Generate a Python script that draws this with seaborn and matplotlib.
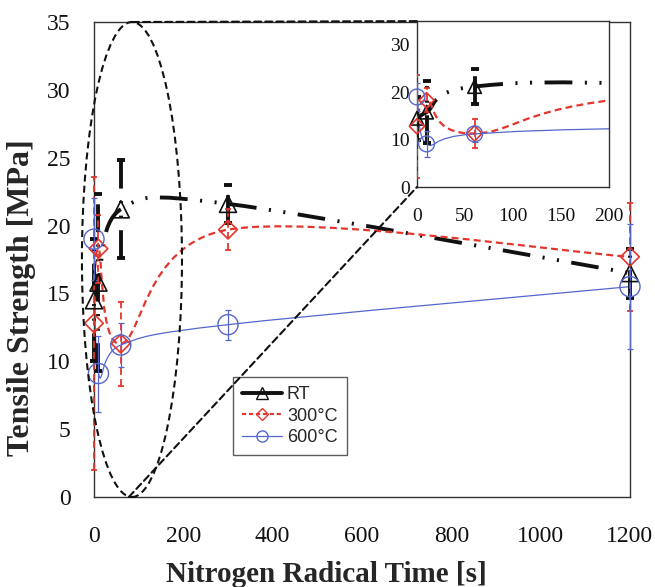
import numpy as np
import pandas as pd
import matplotlib
matplotlib.use("Agg")
import matplotlib.pyplot as plt
import seaborn as sns
from matplotlib.path import Path
from matplotlib.patches import PathPatch, Ellipse, ConnectionPatch
from matplotlib.lines import Line2D

# ---------------- data ----------------
time_s = [0, 10, 60, 300, 1200]
rt_mean = [14.5, 15.8, 21.2, 21.6, 16.5]
rt_err = [4.5, 6.5, 3.6, 1.4, 1.8]
c300_mean = [12.8, 18.3, 11.3, 19.7, 17.7]
c300_err = [10.8, 2.5, 3.1, 1.5, 4.0]
c600_mean = [19.0, 9.1, 11.2, 12.7, 15.5]
c600_err = [3.0, 2.8, 1.6, 1.1, 4.6]
series_labels = ["RT", "300°C", "600°C"]

main_xticks = [0, 200, 400, 600, 800, 1000, 1200]
main_yticks = [0, 5, 10, 15, 20, 25, 30, 35]
inset_xticks = [0, 50, 100, 150, 200]
inset_yticks = [0, 10, 20, 30]

# ---------------- style ----------------
sns.set_style("white")
plt.rcParams["font.family"] = ["Liberation Serif", "DejaVu Serif"]
plt.rcParams["lines.scale_dashes"] = False

BLACK = "#111111"
RED = "#e3362c"
BLUE = "#5567cc"

styles = {
    "RT": dict(color=BLACK, marker="^", lw=2.8, ls=(0, (20, 9, 1.5, 9, 1.5, 9)),
               ms_main=150, ms_inset=95, elw=2.8, cap=3, capthick=2.8),
    "300°C": dict(color=RED, marker="D", lw=1.6, ls=(0, (5, 3)),
                  ms_main=90, ms_inset=60, elw=1.3, cap=2.5, capthick=1.3),
    "600°C": dict(color=BLUE, marker="o", lw=0.9, ls="-",
                  ms_main=210, ms_inset=130, elw=0.9, cap=2.5, capthick=0.9),
}
means = {"RT": rt_mean, "300°C": c300_mean, "600°C": c600_mean}
errs = {"RT": rt_err, "300°C": c300_err, "600°C": c600_err}

df = pd.concat([pd.DataFrame({"time": time_s, "strength": means[k], "err": errs[k], "series": k})
                for k in series_labels], ignore_index=True)


def smooth_path(x, y):
    pts = np.column_stack([x, y]).astype(float)
    n = len(pts)
    verts = [pts[0]]
    codes = [Path.MOVETO]
    for i in range(n - 1):
        p0 = pts[max(i - 1, 0)]
        p1 = pts[i]
        p2 = pts[i + 1]
        p3 = pts[min(i + 2, n - 1)]
        c1 = p1 + (p2 - p0) / 6.0
        c2 = p2 - (p3 - p1) / 6.0
        verts += [c1, c2, p2]
        codes += [Path.CURVE4] * 3
    return Path(verts, codes)


def draw_series(ax, inset=False):
    for key in series_labels:
        st = styles[key]
        sub = df[df["series"] == key]
        patch = PathPatch(smooth_path(sub["time"], sub["strength"]), fill=False,
                          edgecolor=st["color"], lw=st["lw"], linestyle=st["ls"],
                          capstyle="butt", zorder=2)
        ax.add_patch(patch)
        eb = ax.errorbar(sub["time"], sub["strength"], yerr=sub["err"], fmt="none",
                         ecolor=st["color"], elinewidth=st["elw"], capsize=st["cap"],
                         capthick=st["capthick"], zorder=3)
        for lc in eb[2]:
            lc.set_linestyle(st["ls"])
            lc.set_capstyle("butt")
            lc.set_clip_on(inset)
        for c in eb[1]:
            c.set_clip_on(inset)
        sns.scatterplot(data=sub, x="time", y="strength", marker=st["marker"],
                        s=st["ms_inset"] if inset else st["ms_main"], ax=ax,
                        legend=False, zorder=4, clip_on=False)
        pts = ax.collections[-1]
        pts.set_facecolor("none")
        pts.set_edgecolor(st["color"])
        pts.set_linewidth(1.2 if key != "600°C" else 1.0)
    ax.set_xlabel("")
    ax.set_ylabel("")


fig = plt.figure(figsize=(6.55, 5.87), dpi=100)
ax = fig.add_axes([0.1435, 0.1533, 0.8183, 0.8092])
draw_series(ax)
ax.set_xlim(0, 1200)
ax.set_ylim(0, 35)
ax.set_xticks(main_xticks)
ax.set_yticks(main_yticks)
ax.tick_params(axis="both", direction="in", length=6, width=1, colors="#222222",
               labelsize=17, labelcolor="#111111")
ax.tick_params(axis="x", pad=21)
ax.tick_params(axis="y", pad=17)
for sp in ax.spines.values():
    sp.set_color("#333333")
    sp.set_linewidth(1.0)
fig.text(326 / 655, 1 - 575 / 587, "Nitrogen Radical Time [s]", fontsize=21,
         fontweight="bold", ha="center", va="center")
fig.text(22 / 655, 1 - 298 / 587, "Tensile Strength [MPa]", fontsize=23,
         fontweight="bold", ha="center", va="center", rotation=90)

# ellipse highlighting the early times
ell = Ellipse((85, 17.5), width=224, height=35, fill=False, edgecolor=BLACK,
              lw=1.5, linestyle=(0, (5, 3)), zorder=5, clip_on=False)
ax.add_patch(ell)

# inset
axin = fig.add_axes([0.6366, 0.6814, 0.2932, 0.2826])
axin.set_facecolor("white")
draw_series(axin, inset=True)
axin.set_xlim(0, 200)
axin.set_ylim(0, 35)
axin.set_xticks(inset_xticks)
axin.set_yticks(inset_yticks)
axin.tick_params(axis="both", direction="in", length=5, width=1, colors="#222222",
                 labelsize=14, labelcolor="#111111")
axin.tick_params(axis="x", pad=15)
axin.tick_params(axis="y", pad=5)
for sp in axin.spines.values():
    sp.set_color("#333333")
    sp.set_linewidth(1.0)

for xy_a, xy_b in [((85, 35), (0, 1)), ((78, 0), (0, 0))]:
    con = ConnectionPatch(xyA=xy_a, coordsA=ax.transData, xyB=xy_b, coordsB=axin.transAxes,
                          color=BLACK, lw=1.5, linestyle=(0, (5, 3)), zorder=6)
    fig.add_artist(con)

# legend
handles = []
for key in series_labels:
    st = styles[key]
    handles.append(Line2D([0], [0], color=st["color"], lw=st["lw"] if key != "RT" else 2.8,
                          linestyle="-" if key != "300°C" else (0, (3, 2)),
                          marker=st["marker"], markersize=8 if key != "300°C" else 6.5,
                          markerfacecolor="none", markeredgecolor=st["color"],
                          markeredgewidth=1.0))
leg = ax.legend(handles, series_labels, loc="upper left", bbox_to_anchor=(0.259, 0.2526),
                borderaxespad=0, fancybox=False, frameon=True, handlelength=2.2,
                handletextpad=0.3, labelspacing=0.25, borderpad=0.5,
                prop={"family": "Liberation Sans", "size": 13})
leg.get_frame().set_edgecolor("#333333")
leg.get_frame().set_linewidth(1.0)
leg.set_zorder(7)

fig.savefig("out.png", dpi=100)
